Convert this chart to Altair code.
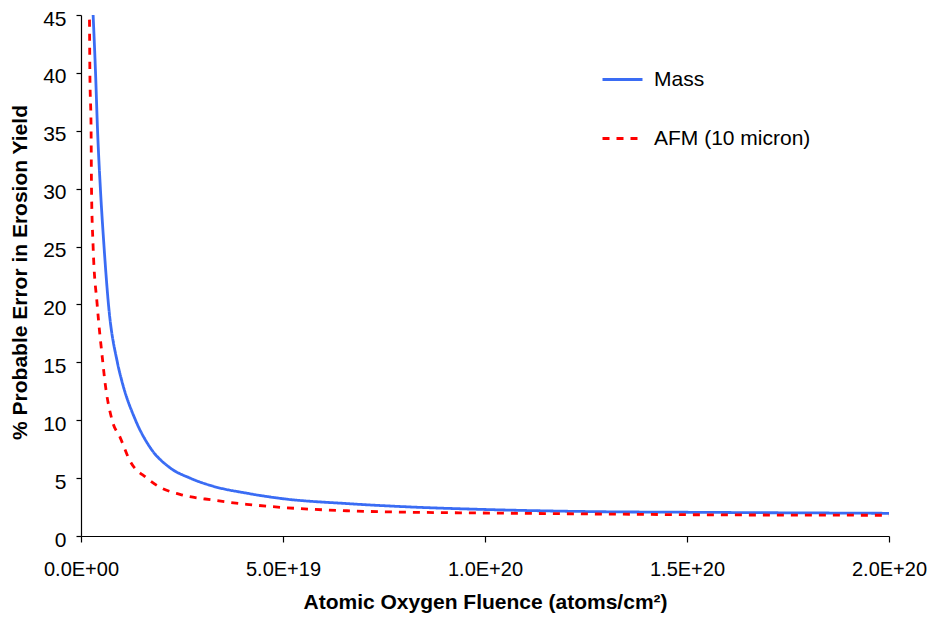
import altair as alt
import pandas as pd

# Atomic oxygen fluence (atoms/cm^2) and % probable error
mass_x = [3.0e18, 3.6e18, 4.1e18, 4.8e18, 5.7e18, 6.8e18, 9.0e18, 1.01e19, 1.35e19,
          1.71e19, 2.2e19, 2.7e19, 3.27e19, 4.1e19, 4.93e19, 6.58e19, 8.2e19, 9.9e19,
          1.28e20, 1.5e20, 2.0e20]
mass_y = [45, 40, 35, 30, 25, 20, 15, 13.4, 10, 7.65, 5.9, 5.0, 4.3, 3.7, 3.25, 2.8,
          2.5, 2.3, 2.1, 2.05, 1.96]

afm_x = [2.1e18, 2.2e18, 2.5e18, 2.6e18, 3.0e18, 4.0e18, 5.4e18, 5.9e18, 7.7e18, 9.7e18,
         1.21e19, 1.63e19, 1.96e19, 2.45e19, 3.27e19, 4.1e19, 4.93e19, 6.58e19, 8.2e19,
         9.9e19, 1.28e20, 1.5e20, 2.0e20]
afm_y = [44.6, 40, 35, 30, 25, 20, 15, 13.4, 10, 8.5, 6.5, 5.0, 4.2, 3.6, 3.1, 2.74,
         2.48, 2.18, 2.05, 1.99, 1.9, 1.84, 1.79]

series_names = ["Mass", "AFM (10 micron)"]
series_colors = ["#3a6cf4", "#ff0000"]
x_ticks = [0, 5e19, 1e20, 1.5e20, 2e20]
y_ticks = list(range(0, 50, 5))

df = pd.concat([
    pd.DataFrame({"x": mass_x, "y": mass_y, "series": series_names[0], "order": range(len(mass_x))}),
    pd.DataFrame({"x": afm_x, "y": afm_y, "series": series_names[1], "order": range(len(afm_x))}),
])

FONT = "Liberation Sans"
common = dict(labelFont=FONT, titleFont=FONT, titleFontSize=21, titleFontWeight="bold",
              labelColor="#000000", titleColor="#000000", domainColor="#000000",
              tickColor="#000000", domainWidth=1.2, tickWidth=1.2, grid=False)

chart = alt.Chart(df).mark_line(interpolate="monotone", strokeWidth=2.8, clip=True).encode(
    x=alt.X("x:Q",
            scale=alt.Scale(domain=[0, 2e20], nice=False, zero=False),
            axis=alt.Axis(values=x_ticks, tickSize=6, labelPadding=17, labelFontSize=20,
                          labelExpr="datum.value == 0 ? '0.0E+00' : upper(format(datum.value, '.1e'))",
                          title="Atomic Oxygen Fluence (atoms/cm²)", titleY=66,
                          titleBaseline="middle", labelFlush=False, **common),
            ),
    y=alt.Y("y:Q",
            scale=alt.Scale(domain=[0, 45], nice=False),
            axis=alt.Axis(values=y_ticks, tickSize=5, labelPadding=10, labelFontSize=21,
                          labelOffset=4,
                          title="% Probable Error in Erosion Yield",
                          titleX=-61, titleY=257, titleBaseline="middle", titleAlign="center",
                          **common)),
    color=alt.Color("series:N",
                    scale=alt.Scale(domain=series_names, range=series_colors),
                    sort=series_names,
                    legend=alt.Legend(orient="none", legendX=520, legendY=43, title=None,
                                      symbolType="stroke", symbolSize=1600,
                                      symbolStrokeWidth=2.8, labelFontSize=21,
                                      labelFont=FONT, labelOffset=10, rowPadding=27,
                                      labelLimit=400, labelColor="#000000")),
    strokeDash=alt.StrokeDash("series:N",
                              scale=alt.Scale(domain=series_names, range=[[1, 0], [7, 7]]),
                              sort=series_names, legend=None),
    order="order:Q",
).properties(
    width=808, height=521,
    background="white",
    autosize=alt.AutoSizeParams(type="none"),
    padding={"left": 73, "top": 7, "right": 38, "bottom": 79},
).configure_view(stroke=None)

chart.save("out.html", embed_options={"renderer": "svg", "actions": False})
